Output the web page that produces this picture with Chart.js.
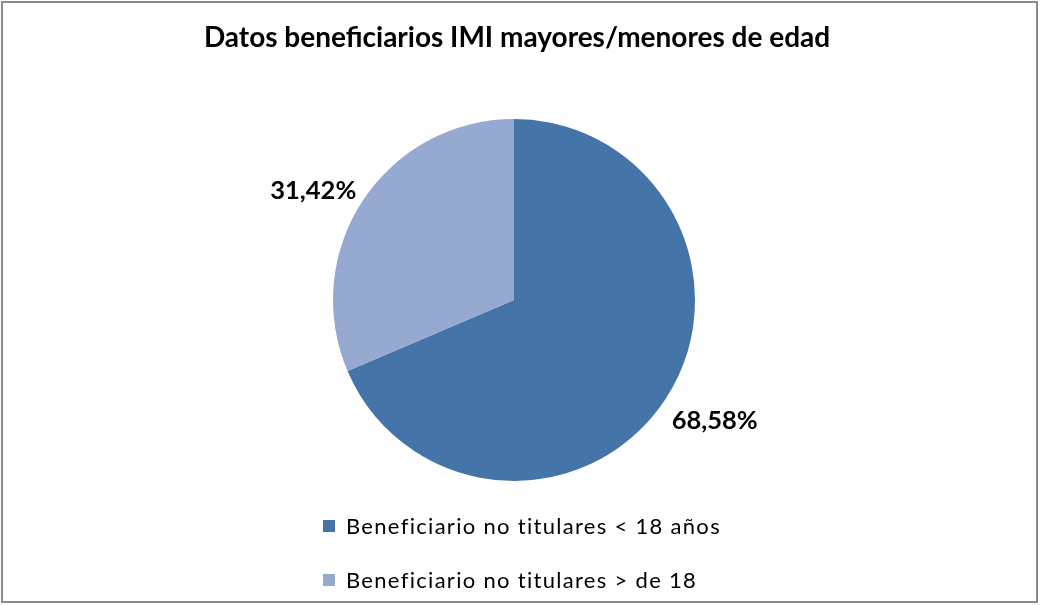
<!DOCTYPE html>
<html><head><meta charset="utf-8">
<script src="https://cdn.jsdelivr.net/npm/chart.js@4/dist/chart.umd.min.js"></script>
<style>html,body{margin:0;padding:0;background:#fff}#wrap{width:1040px;height:605px;position:relative}</style>
</head><body><div id="wrap"><canvas id="c" width="1040" height="605"></canvas></div>
<script>
const titleText = "Datos beneficiarios IMI mayores/menores de edad";
const categories = ["Beneficiario no titulares < 18 años", "Beneficiario no titulares > de 18"];
const values = [68.58, 31.42];
const valueLabels = ["68,58%", "31,42%"];
const colors = ["#4574A9", "#95A9D1"];

const decor = {
  id: 'decor',
  afterDraw(chart) {
    const ctx = chart.ctx;
    ctx.save();
    // frame
    ctx.strokeStyle = '#8c8c8c';
    ctx.lineWidth = 2;
    ctx.strokeRect(2, 2, 1035, 600);
    // title
    ctx.fillStyle = '#000';
    ctx.textAlign = 'center';
    ctx.textBaseline = 'middle';
    ctx.font = 'bold 28px Lato, "Open Sans", sans-serif';
    ctx.fillText(titleText, 517, 38);
    // data labels (anchored by their corner nearest the slice)
    const meta = chart.getDatasetMeta(0);
    ctx.font = 'bold 25.5px Lato, "Open Sans", sans-serif';
    meta.data.forEach((arc, i) => {
      const mid = (arc.startAngle + arc.endAngle) / 2;
      const r = arc.outerRadius + 8;
      const w = ctx.measureText(valueLabels[i]).width;
      const cx = Math.cos(mid), cy = Math.sin(mid);
      const x = arc.x + cx * r + Math.sign(cx) * w / 2;
      const y = arc.y + cy * r + Math.sign(cy) * 11 + 6;
      ctx.fillText(valueLabels[i], x, y);
    });
    // legend
    ctx.textAlign = 'left';
    ctx.font = '22px Lato, "Open Sans", sans-serif';
    if ('letterSpacing' in ctx) ctx.letterSpacing = '1.3px';
    categories.forEach((c, i) => {
      const y = 526 + i * 54;
      ctx.fillStyle = colors[i];
      ctx.fillRect(323, y - 6, 12, 12);
      ctx.fillStyle = '#000';
      ctx.fillText(c, 346, y + 1);
    });
    ctx.restore();
  }
};

new Chart(document.getElementById('c'), {
  type: 'pie',
  data: {
    labels: categories,
    datasets: [{ data: values, backgroundColor: colors, borderWidth: 0 }]
  },
  options: {
    responsive: false,
    animation: false,
    layout: { padding: { top: 119, bottom: 124, left: 333, right: 345 } },
    plugins: { legend: { display: false }, tooltip: { enabled: false }, title: { display: false } }
  },
  plugins: [decor]
});
</script></body></html>
